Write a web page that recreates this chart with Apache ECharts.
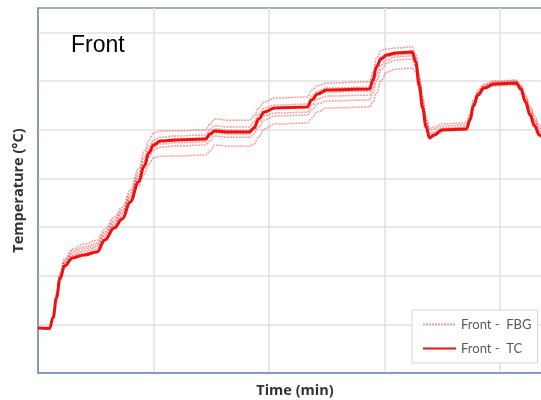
<!DOCTYPE html>
<html>
<head>
<meta charset="utf-8">
<script src="https://cdn.jsdelivr.net/npm/echarts@6/dist/echarts.min.js"></script>
<style>html,body{margin:0;padding:0;background:#fff}#c{width:541px;height:400px}</style>
</head>
<body>
<div id="c"></div>
<script>
// time in minutes
const times = [0,10,13,16,19,23,30,40,51,58,66,73,80,87,92,96,100,106,120,145,149,153,165,183,187,191,196,205,233,237,242,250,287,290,293,297,302,310,324,327,330,333,336,339,343,350,371,374,377,381,386,395,414,418,422,426,430,434,440];
// thermocouple (°C)
const tcTemps = [18.5,18.3,22.6,30.8,38.6,44.0,47.3,48.5,49.7,54.7,59.6,63.3,70.3,78.5,85.1,90.4,93.7,95.3,95.8,96.2,98.2,99.5,99.0,99.0,100.7,104.4,107.3,108.9,109.3,112.2,114.7,116.3,116.7,120.4,125.8,129.1,130.7,131.5,131.9,127.8,118.4,108.9,101.1,96.6,97.8,99.9,100.3,104.0,109.7,114.3,117.1,118.8,119.2,116.7,111.4,106.0,101.5,97.8,93.3];
// FBG sensors (°C)
const fbg1 = [18.5,18.3,23.4,32.4,40.7,46.9,51.0,53.0,54.6,59.2,64.1,68.2,75.2,83.8,90.9,95.7,98.6,99.4,99.5,99.9,102.3,104.4,103.9,103.9,105.6,108.9,111.4,113.0,113.4,116.3,118.0,119.2,119.6,123.7,129.5,132.4,133.2,133.6,134.0,131.1,122.5,113.8,105.2,100.7,101.1,102.4,102.8,106.5,112.2,116.4,118.7,120.0,120.4,118.3,114.3,109.7,105.6,101.9,97.4];
const fbg2 = [18.5,18.3,23.0,32.0,40.2,46.1,50.2,51.8,53.4,58.0,62.9,67.0,74.0,82.2,88.8,93.3,95.8,96.9,97.4,97.8,100.3,101.6,101.1,101.1,103.2,106.5,108.9,110.1,110.5,113.8,115.9,117.1,117.5,121.6,127.0,129.9,131.1,131.9,132.3,129.4,120.9,112.2,104.0,99.9,100.3,101.5,101.9,105.6,111.3,115.5,118.3,119.6,120.0,117.9,113.5,108.9,104.4,100.7,96.2];
const fbg3 = [18.5,18.3,23.0,31.6,39.8,45.6,49.4,51.0,52.6,57.2,62.1,66.2,72.8,81.0,87.2,91.6,94.5,95.7,96.2,96.6,99.0,100.3,99.8,99.8,101.5,104.8,107.3,108.9,109.3,112.2,114.3,115.5,115.9,119.6,125.0,128.3,129.9,130.7,131.1,128.2,119.6,111.0,102.7,98.7,99.0,100.7,101.1,104.8,110.9,115.1,117.5,119.2,119.6,117.5,112.6,107.6,103.6,99.9,95.4];
const fbg4 = [18.5,18.3,22.6,31.2,39.4,45.2,48.5,50.1,51.8,56.3,61.2,65.4,71.9,79.7,85.9,90.4,92.9,94.1,94.6,95.0,97.0,98.7,98.2,98.2,99.9,103.2,105.7,106.8,107.2,110.1,112.6,113.8,114.2,117.5,122.5,126.6,128.6,129.9,130.3,127.0,118.4,109.7,101.9,97.8,98.6,100.3,100.7,104.4,110.1,114.7,117.1,118.8,119.2,117.1,112.2,106.8,102.7,99.0,94.5];
const fbg5 = [18.5,18.3,22.6,31.2,39.0,44.8,48.1,49.3,50.9,55.5,60.4,64.5,71.1,78.5,84.3,88.8,91.6,92.8,93.3,93.7,95.3,97.4,96.9,96.9,98.2,101.1,104.0,105.6,106.0,108.1,110.6,111.8,112.2,115.1,120.0,124.6,127.4,128.6,129.0,125.7,117.2,108.9,101.1,97.0,97.8,99.9,100.3,104.0,109.7,114.3,116.7,118.4,118.8,116.7,111.4,106.4,101.9,98.2,93.7];
const fbg6 = [18.5,18.3,22.6,30.8,38.6,44.0,47.3,48.5,50.1,54.7,59.6,63.7,70.3,76.9,81.8,85.9,88.4,89.1,89.2,89.6,91.2,93.7,93.2,93.2,94.1,97.0,100.3,102.3,102.7,104.8,107.3,108.9,109.3,111.4,115.1,120.1,123.7,124.9,125.3,123.7,116.3,108.1,100.7,96.6,97.4,99.5,99.9,103.6,109.3,113.9,116.7,118.0,118.4,116.3,111.0,105.6,101.5,97.8,93.3];
const fbgSets = [fbg1, fbg2, fbg3, fbg4, fbg5, fbg6];
const fbgName = 'Front -  FBG';
const tcName = 'Front -  TC';

const chart = echarts.init(document.getElementById('c'));
const pairs = arr => times.map((t, i) => [t, arr[i]]);

const series = fbgSets.map(arr => ({
  name: fbgName,
  type: 'line',
  data: pairs(arr),
  symbol: 'none',
  smooth: 0.4,
  smoothMonotone: 'x',
  lineStyle: { color: 'rgba(225,40,40,0.45)', width: 1.5, type: [2, 1] },
  itemStyle: { color: 'rgba(225,40,40,0.45)' },
  z: 2
}));
series.push({
  name: tcName,
  type: 'line',
  data: pairs(tcTemps),
  symbol: 'none',
  smooth: 0.4,
  smoothMonotone: 'x',
  lineStyle: { color: '#f01010', width: 3 },
  itemStyle: { color: '#f01010' },
  z: 3
});

const splitStyle = { show: true, showMinLine: false, showMaxLine: false, lineStyle: { color: '#e0e0e0', width: 1.5 } };

chart.setOption({
  animation: false,
  backgroundColor: '#fff',
  grid: {
    left: 38, top: 8, width: 514, height: 365,
    outerBoundsMode: 'none', containLabel: false,
    show: true, borderColor: '#7f93bf', borderWidth: 1.5, backgroundColor: 'transparent'
  },
  xAxis: {
    type: 'value', min: 0, max: 445, interval: 100,
    name: 'Time (min)', nameLocation: 'middle', nameGap: 10,
    nameTextStyle: { fontFamily: 'Open Sans', fontWeight: 'bold', fontSize: 14.5, color: '#333' },
    axisLine: { show: true, lineStyle: { color: '#7f93bf', width: 1.5 } },
    axisTick: { show: false }, axisLabel: { show: false },
    splitLine: splitStyle
  },
  yAxis: {
    type: 'value', min: 0, max: 150, interval: 20,
    name: 'Temperature (°C)', nameLocation: 'middle', nameGap: 12,
    nameTextStyle: { fontFamily: 'Open Sans', fontWeight: 'bold', fontSize: 14.5, color: '#333' },
    axisLine: { show: true, lineStyle: { color: '#7f93bf', width: 1.5 } },
    axisTick: { show: false }, axisLabel: { show: false },
    splitLine: splitStyle
  },
  legend: {
    data: [fbgName, tcName],
    orient: 'vertical', left: 412, top: 310,
    padding: [8, 6, 8, 10], itemGap: 11, itemWidth: 33, itemHeight: 12,
    borderColor: '#d6d6d6', borderWidth: 1, backgroundColor: '#fff',
    itemStyle: { opacity: 0 },
    textStyle: { color: '#595959', fontSize: 13, fontFamily: 'Lato' }
  },
  graphic: [{
    type: 'text', left: 71, top: 34,
    style: { text: 'Front', fontSize: 23, fontFamily: 'Liberation Sans', fill: '#000' }
  }],
  series: series
});
</script>
</body>
</html>
